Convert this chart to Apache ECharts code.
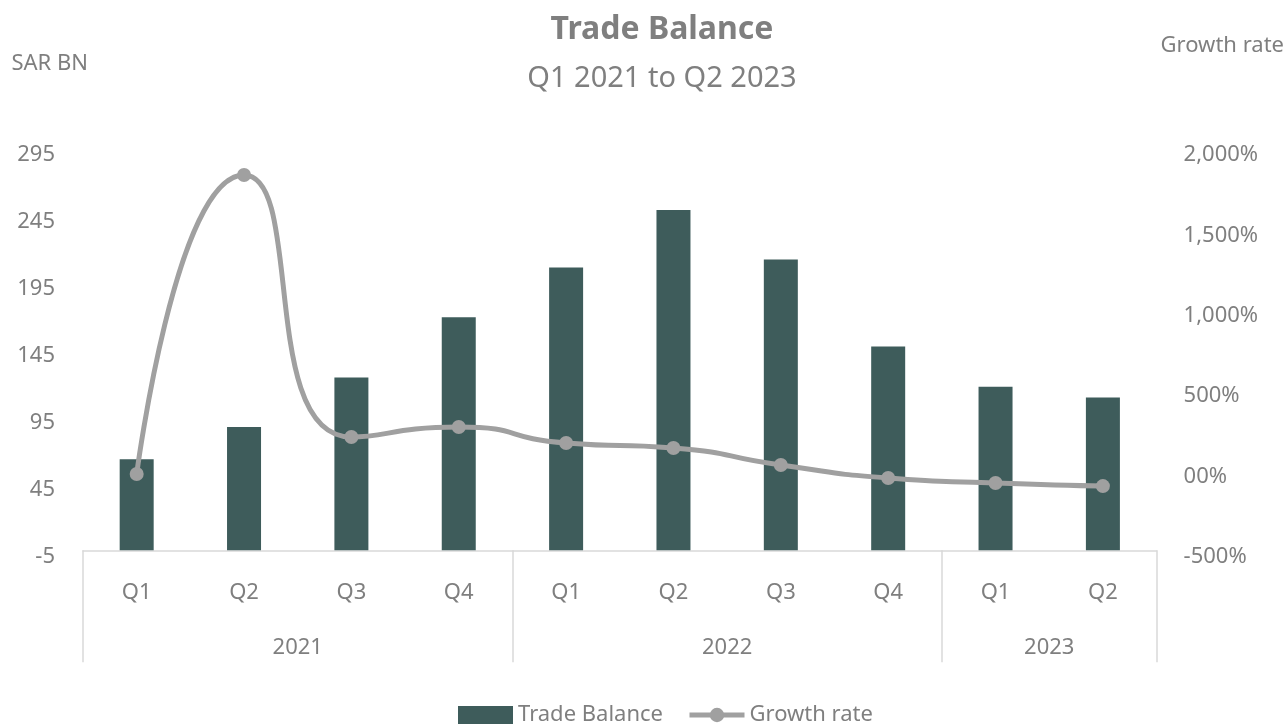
<!DOCTYPE html>
<html>
<head>
<meta charset="utf-8">
<script src="https://cdn.jsdelivr.net/npm/echarts@6/dist/echarts.min.js"></script>
<style>
  html, body { margin: 0; padding: 0; background: #fff; }
  #chart { width: 1287px; height: 726px; }
</style>
</head>
<body>
<div id="chart"></div>
<script>
// data
const quarters = ["Q1", "Q2", "Q3", "Q4", "Q1", "Q2", "Q3", "Q4", "Q1", "Q2"];
const years = ["2021", "2022", "2023"];
const yearCenters = [2, 6, 9]; // position on the quarter scale (0..10)
const tradeBalance = [68, 92, 129, 174, 211, 254, 217, 152, 122, 114];
const growthRate = [16, 1876, 246, 308, 209, 178, 72, -9, -40, -59];

const grey = "#7f7f7f";
const font = "Noto Sans";

const myChart = echarts.init(document.getElementById("chart"));
myChart.setOption({
  textStyle: { fontFamily: font, color: grey },
  title: [
    {
      text: "Trade Balance",
      left: 657,
      textAlign: "center",
      top: 9,
      textStyle: { fontSize: 32, fontWeight: "bold", color: grey, fontFamily: font }
    },
    {
      text: "Q1 2021 to Q2 2023",
      left: 657,
      textAlign: "center",
      top: 59,
      textStyle: { fontSize: 29, fontWeight: "normal", color: grey, fontFamily: font }
    }
  ],
  legend: {
    top: 699,
    left: 453,
    itemWidth: 55,
    itemHeight: 18,
    itemGap: 24,
    textStyle: { fontSize: 22, color: grey, fontFamily: font },
    data: [
      { name: "Trade Balance", icon: "rect" },
      { name: "Growth rate", lineStyle: { width: 5, color: "#a0a0a0" } }
    ]
  },
  grid: { left: 83, right: 129, top: 155, bottom: 169 },
  xAxis: [
    {
      type: "category",
      data: quarters,
      axisLine: { lineStyle: { color: "#d9d9d9", width: 1.5 } },
      axisTick: {
        show: true,
        interval: (i) => i % 4 === 0,
        length: 112,
        lineStyle: { color: "#d9d9d9", width: 1.5 }
      },
      axisLabel: { fontSize: 22, color: grey, margin: 25, fontFamily: font }
    },
    {
      type: "value",
      min: 0,
      max: 10,
      position: "bottom",
      axisLine: { show: false, onZero: false },
      axisTick: { show: false },
      splitLine: { show: false },
      axisLabel: {
        customValues: yearCenters,
        fontSize: 22,
        color: grey,
        margin: 80,
        fontFamily: font,
        formatter: (v) => years[yearCenters.indexOf(v)] || ""
      }
    }
  ],
  yAxis: [
    {
      type: "value",
      min: -5,
      max: 295,
      interval: 50,
      name: "SAR BN",
      nameLocation: "end",
      nameGap: 80,
      nameTextStyle: { fontSize: 22, color: grey, align: "right", padding: [0, -5, 0, 0], fontFamily: font },
      axisLine: { show: false, onZero: false },
      axisTick: { show: false },
      splitLine: { show: false },
      axisLabel: { fontSize: 22, color: grey, margin: 28, fontFamily: font }
    },
    {
      type: "value",
      min: -500,
      max: 2000,
      interval: 500,
      name: "Growth rate",
      nameLocation: "end",
      nameGap: 98,
      nameTextStyle: { fontSize: 22, color: grey, align: "left", padding: [0, 0, 0, 4], fontFamily: font },
      axisLine: { show: false, onZero: false },
      axisTick: { show: false },
      splitLine: { show: false },
      axisLabel: {
        fontSize: 22,
        color: grey,
        margin: 27,
        fontFamily: font,
        formatter: (v) => (v === 0 ? "00%" : v.toLocaleString("en-US") + "%")
      }
    }
  ],
  series: [
    {
      name: "Trade Balance",
      type: "bar",
      data: tradeBalance,
      barWidth: 34,
      itemStyle: { color: "#3e5c5b" }
    },
    {
      name: "Growth rate",
      type: "line",
      yAxisIndex: 1,
      data: growthRate,
      smooth: 0.6,
      symbol: "circle",
      symbolSize: 14,
      lineStyle: { color: "#a0a0a0", width: 5 },
      itemStyle: { color: "#a0a0a0" }
    }
  ]
});
</script>
</body>
</html>
